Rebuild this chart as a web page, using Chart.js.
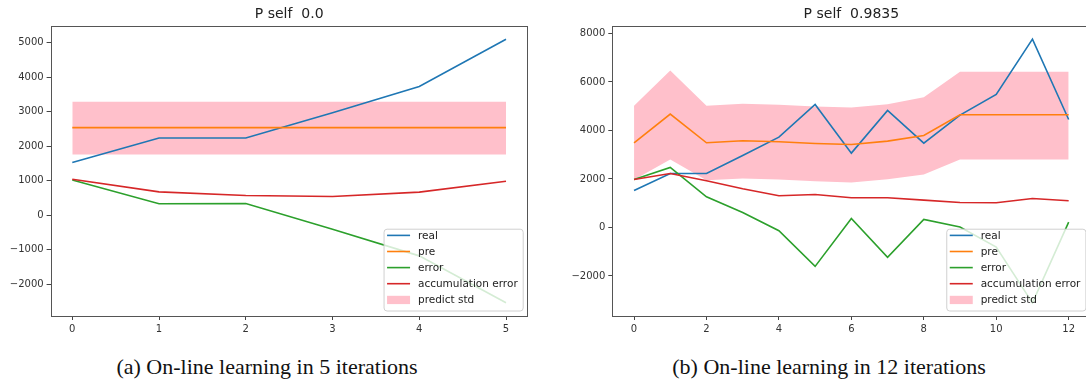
<!DOCTYPE html>
<html>
<head>
<meta charset="utf-8">
<script src="https://cdn.jsdelivr.net/npm/chart.js@4"></script>
<style>
    html, body { margin: 0; padding: 0; background: #fff; overflow: hidden; }
    body { width: 1086px; height: 379px; position: relative; }
    .panel { position: absolute; top: 0; height: 332px; }
    .caption {
        position: absolute; top: 356px; transform: translateX(-50%);
        font-family: "Liberation Serif", serif; font-size: 22px; line-height: 1; color: #111; white-space: nowrap;
    }
</style>
</head>
<body>
<div class="panel" style="left:0;width:543px"><canvas id="chart_a" width="543" height="332"></canvas></div>
<div class="panel" style="left:543px;width:560px"><canvas id="chart_b" width="560" height="332"></canvas></div>
<div class="caption" style="left:267px">(a) On-line learning in 5 iterations</div>
<div class="caption" style="left:829px">(b) On-line learning in 12 iterations</div>
<script>
    // (a) 5 iterations, P self 0.0
    var iters_a = [0, 1, 2, 3, 4, 5];
    var real_a = [1522, 2235, 2235, 2967, 3728, 5096];
    var pre_a = [2534, 2534, 2534, 2534, 2534, 2534];
    var error_a = [1015, 330, 335, -410, -1180, -2540];
    var accum_a = [1040, 674, 568, 540, 665, 983];
    var std_hi_a = [3285, 3285, 3285, 3285, 3285, 3285];
    var std_lo_a = [1753, 1753, 1753, 1753, 1753, 1753];
    var xticks_a = [0, 1, 2, 3, 4, 5];
    var yticks_a = [-2000, -1000, 0, 1000, 2000, 3000, 4000, 5000];

    // (b) 12 iterations, P self 0.9835
    var iters_b = [0, 1, 2, 3, 4, 5, 6, 7, 8, 9, 10, 11, 12];
    var real_b = [1526, 2227, 2227, 2969, 3725, 5072, 3065, 4825, 3478, 4632, 5485, 7766, 4454];
    var pre_b = [3491, 4674, 3491, 3574, 3533, 3464, 3423, 3560, 3794, 4646, 4646, 4646, 4646];
    var error_b = [1979, 2474, 1265, 619, -137, -1608, 371, -1237, 330, 14, -811, -3110, 220];
    var accum_b = [1979, 2227, 1924, 1594, 1306, 1361, 1223, 1223, 1127, 1031, 1017, 1196, 1100];
    var std_hi_b = [5017, 6474, 5017, 5100, 5059, 4990, 4949, 5086, 5375, 6419, 6419, 6419, 6419];
    var std_lo_b = [1970, 2800, 1950, 2020, 1980, 1900, 1850, 1990, 2180, 2800, 2800, 2800, 2800];
    var xticks_b = [0, 2, 4, 6, 8, 10, 12];
    var yticks_b = [-2000, 0, 2000, 4000, 6000, 8000];

    var legend_labels = ['real', 'pre', 'error', 'accumulation error', 'predict std'];
    var legend_colors = ['#1f77b4', '#ff7f0e', '#2ca02c', '#d62728', '#ffc0cb'];

    // marges de 5% comme matplotlib
    function padded(values) {
        var lo = Math.min.apply(null, values), hi = Math.max.apply(null, values);
        var m = (hi - lo) * 0.05;
        return [lo - m, hi + m];
    }

    function points(xs, ys) {
        return ys.map(function (v, i) { return {x: xs[i], y: v}; });
    }

    function axis(ticks, range, isY, size) {
        return {
            type: 'linear',
            min: range[0],
            max: range[1],
            afterBuildTicks: function (scale) {
                scale.ticks = ticks.map(function (v) { return {value: v}; });
            },
            afterFit: function (scale) {
                if (isY) scale.width = size; else scale.height = size;
            },
            grid: {display: true, drawOnChartArea: false, drawTicks: true, tickLength: 4, color: '#444'},
            border: {display: false},
            ticks: {
                autoSkip: false, maxRotation: 0, padding: 3, color: '#333',
                font: {family: 'DejaVu Sans', size: 10},
                callback: function (v) { return String(v).replace('-', '\u2212'); }
            }
        };
    }

    var framePlugin = {
        id: 'frame',
        afterDatasetsDraw: function (chart) {
            var a = chart.chartArea, ctx = chart.ctx;
            ctx.save();
            ctx.strokeStyle = '#555';
            ctx.lineWidth = 1;
            ctx.strokeRect(Math.round(a.left) + 0.5, Math.round(a.top) + 0.5,
                Math.round(a.right - a.left) - 1, Math.round(a.bottom - a.top));
            ctx.restore();
        }
    };

    var legendPlugin = {
        id: 'cornerLegend',
        afterDraw: function (chart) {
            var a = chart.chartArea, ctx = chart.ctx;
            ctx.save();
            ctx.font = '10.5px "DejaVu Sans"';
            var textW = Math.max.apply(null, legend_labels.map(function (t) { return ctx.measureText(t).width; }));
            var rowH = 16.1;
            var w = 34.4 + textW + 5;
            var h = 6.7 + rowH * 4 + 10.7;
            var x0 = a.right - 5 - w, y0 = a.bottom - 5.5 - h;
            ctx.beginPath();
            ctx.roundRect(x0 + 0.5, y0 + 0.5, w, h, 3);
            ctx.fillStyle = 'rgba(255,255,255,0.8)';
            ctx.fill();
            ctx.strokeStyle = '#d0d0d0';
            ctx.lineWidth = 1;
            ctx.stroke();
            ctx.textBaseline = 'middle';
            legend_labels.forEach(function (label, i) {
                var cy = y0 + 6.7 + i * rowH;
                if (i == legend_labels.length - 1) {
                    ctx.fillStyle = legend_colors[i];
                    ctx.fillRect(x0 + 3.5, cy - 4, 23, 8.3);
                } else {
                    ctx.strokeStyle = legend_colors[i];
                    ctx.lineWidth = 1.6;
                    ctx.beginPath();
                    ctx.moveTo(x0 + 3.5, cy);
                    ctx.lineTo(x0 + 26.5, cy);
                    ctx.stroke();
                }
                ctx.fillStyle = '#222';
                ctx.fillText(label, x0 + 34.4, cy + 0.5);
            });
            ctx.restore();
        }
    };

    function lineSet(label, data, color, order) {
        return {label: label, data: data, borderColor: color, borderWidth: 1.6,
            pointRadius: 0, tension: 0, fill: false, order: order};
    }

    function makeChart(id, title, xs, real, pre, error, accum, hi, lo, xticks, yticks, yWidth, padRight) {
        var yRange = padded(real.concat(pre, error, accum, hi, lo));
        var xRange = padded(xs);
        return new Chart(id, {
            type: 'line',
            data: {
                datasets: [
                    lineSet('real', points(xs, real), legend_colors[0], 4),
                    lineSet('pre', points(xs, pre), legend_colors[1], 3),
                    lineSet('error', points(xs, error), legend_colors[2], 2),
                    lineSet('accumulation error', points(xs, accum), legend_colors[3], 1),
                    {label: 'predict std', data: points(xs, hi), borderWidth: 0, pointRadius: 0,
                        backgroundColor: legend_colors[4], fill: '+1', order: 5},
                    {label: 'std low', data: points(xs, lo), borderWidth: 0, pointRadius: 0,
                        fill: false, order: 6}
                ]
            },
            options: {
                responsive: false,
                animation: false,
                layout: {padding: {left: 0, right: padRight, top: 0, bottom: 0}},
                scales: {
                    x: axis(xticks, xRange, false, 16),
                    y: axis(yticks, yRange, true, yWidth)
                },
                plugins: {
                    legend: {display: false},
                    tooltip: {enabled: false},
                    title: {
                        display: true, text: title, fullSize: false, color: '#222',
                        font: {family: 'DejaVu Sans', size: 14, weight: 'normal'},
                        lineHeight: 1.2,
                        padding: {top: 5.6, bottom: 3.6}
                    }
                }
            },
            plugins: [framePlugin, legendPlugin]
        });
    }

    makeChart('chart_a', 'P self  0.0', iters_a, real_a, pre_a, error_a, accum_a,
        std_hi_a, std_lo_a, xticks_a, yticks_a, 50.6, 15.3);
    makeChart('chart_b', 'P self  0.9835', iters_b, real_b, pre_b, error_b, accum_b,
        std_hi_b, std_lo_b, xticks_b, yticks_b, 69.3, 12.6);
</script>
</body>
</html>
